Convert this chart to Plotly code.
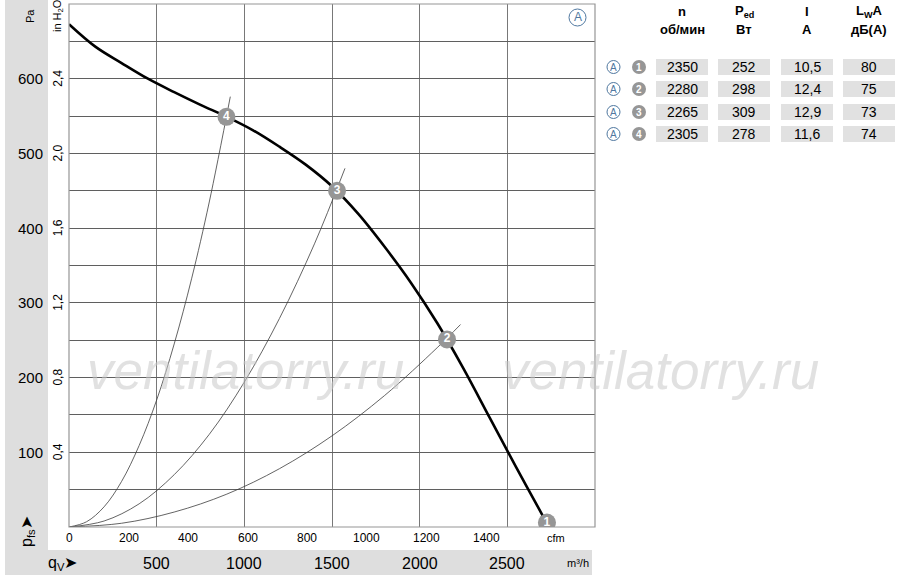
import plotly.graph_objects as go

# main fan curve (m3/h, Pa)
curve_q = [0, 150, 300, 450, 600, 750, 900, 1050, 1200, 1350, 1500, 1650, 1800, 1950, 2100, 2250, 2400, 2550,
           2700, 2726]
curve_p = [673, 643, 621, 600, 582, 565, 549, 531, 509, 485, 456, 419, 375, 327, 273, 212, 146, 80, 16, 5]

# system curves through the operating points
sys4_q = [0, 100, 200, 300, 400, 500, 600, 700, 800, 920]
sys4_p = [0, 7, 27, 61, 109, 170, 245, 333, 435, 576]
sys3_q = [0, 200, 400, 600, 800, 1000, 1200, 1400, 1574]
sys3_p = [0, 8, 31, 70, 124, 194, 279, 379, 480]
sys2_q = [0, 300, 600, 900, 1200, 1500, 1800, 2100, 2233]
sys2_p = [0, 5, 20, 44, 78, 122, 176, 240, 271]

# operating points
pt_ids = ["1", "2", "3", "4"]
pt_q = [2726, 2156, 1529, 898]
pt_p = [6, 251, 450, 549]

# axis ticks
pa_ticks = [100, 200, 300, 400, 500, 600]
inh2o_ticks = ["0,4", "0,8", "1,2", "1,6", "2,0", "2,4"]
cfm_ticks = [0, 200, 400, 600, 800, 1000, 1200, 1400]
m3h_ticks = [500, 1000, 1500, 2000, 2500]

# table
col_head1 = ["n", "P<sub>ed</sub>", "I", "L<sub>W</sub>A"]
col_head2 = ["об/мин", "Вт", "A", "дБ(A)"]
tab_n = ["2350", "2280", "2265", "2305"]
tab_ped = ["252", "298", "309", "278"]
tab_i = ["10,5", "12,4", "12,9", "11,6"]
tab_lwa = ["80", "75", "73", "74"]

FONT = "Liberation Sans, Arial, sans-serif"
L, R, T, B = 69, 595, 4, 527


def px(x):
    return (x - L) / (R - L)


def py(y):
    return (B - y) / (B - T)


def label(x, y, text, size, color="black", angle=0, xanchor="center", xref="paper", yref="paper", **kw):
    return dict(xref=xref, yref=yref, x=x, y=y, text=text, showarrow=False, textangle=angle,
                xanchor=xanchor, yanchor="middle", font=dict(family=FONT, size=size, color=color, **kw))


fig = go.Figure()

for q, p in [(sys4_q, sys4_p), (sys3_q, sys3_p), (sys2_q, sys2_p)]:
    fig.add_trace(go.Scatter(x=q, y=p, mode="lines", line=dict(color="rgb(60,60,60)", width=0.8, shape="spline"),
                             hoverinfo="skip"))

fig.add_trace(go.Scatter(x=curve_q, y=curve_p, mode="lines",
                         line=dict(color="black", width=2.6, shape="spline", smoothing=1.0)))

fig.add_trace(go.Scatter(x=pt_q, y=pt_p, mode="markers+text", text=pt_ids,
                         marker=dict(size=18, color="rgb(150,150,150)"),
                         textfont=dict(color="white", size=12, family=FONT, weight="bold"),
                         textposition="middle center"))

shapes = []
ann = []

# grey bands
shapes.append(dict(type="rect", xref="paper", yref="paper", x0=px(5), x1=px(48), y0=py(550), y1=py(0),
                   fillcolor="rgb(222,222,222)", line_width=0, layer="below"))
shapes.append(dict(type="rect", xref="paper", yref="paper", x0=px(5), x1=px(592), y0=py(575), y1=py(550),
                   fillcolor="rgb(222,222,222)", line_width=0, layer="below"))

# frame
shapes.append(dict(type="rect", xref="paper", yref="paper", x0=0, x1=1, y0=0, y1=1,
                   line=dict(color="rgb(150,150,150)", width=1.2)))

# watermark
for xc in [245, 660]:
    ann.append(label(px(xc), py(370), "ventilatorry.ru", 53, color="rgba(200,200,200,0.55)", style="italic"))

# left axis labels
for v, t in zip(pa_ticks, inh2o_ticks):
    ann.append(label(px(45), v, str(v), 15, xanchor="right", yref="y"))
    ann.append(label(px(58), v, t, 12, angle=-90, yref="y"))
ann.append(label(px(30), py(16), "Pa", 11, angle=-90))
ann.append(label(px(58), py(16), "in H<sub>2</sub>O", 11, angle=-90))
ann.append(label(px(27), py(532), "p<sub>fs</sub>➤", 16, angle=-90))

# bottom axis labels
for c in cfm_ticks:
    ann.append(label(c * 1.699, py(538), str(c), 12, xref="x"))
ann.append(label(px(556), py(538), "cfm", 11))
for m in m3h_ticks:
    ann.append(label(m, py(563), str(m), 16, xref="x"))
ann.append(label(px(578), py(563), "m³/h", 11))
ann.append(label(px(62), py(563), "q<sub>V</sub>➤", 16))

# circled A in the plot
A_COL = "rgb(80,120,160)"
shapes.append(dict(type="circle", xref="paper", yref="paper", x0=px(569), x1=px(586), y0=py(26), y1=py(9),
                   line=dict(color=A_COL, width=1)))
ann.append(label(px(577.5), py(17.5), "A", 12, color=A_COL))

# table
col_x = [682, 744, 807, 869]
col_w = 52
for cx, h1, h2 in zip(col_x, col_head1, col_head2):
    ann.append(label(px(cx), py(12), "<b>" + h1 + "</b>", 13))
    ann.append(label(px(cx), py(29), "<b>" + h2 + "</b>", 13))

row_y = [67, 89, 112, 134]
for i, ry in enumerate(row_y):
    shapes.append(dict(type="circle", xref="paper", yref="paper", x0=px(607), x1=px(620), y0=py(ry + 6.5),
                       y1=py(ry - 6.5), line=dict(color=A_COL, width=1)))
    ann.append(label(px(613.5), py(ry), "A", 10, color=A_COL))
    shapes.append(dict(type="circle", xref="paper", yref="paper", x0=px(632), x1=px(646), y0=py(ry + 7),
                       y1=py(ry - 7), fillcolor="rgb(150,150,150)", line_width=0))
    ann.append(label(px(639), py(ry), "<b>" + pt_ids[i] + "</b>", 10, color="white"))
    for cx, vals in zip(col_x, [tab_n, tab_ped, tab_i, tab_lwa]):
        shapes.append(dict(type="rect", xref="paper", yref="paper", x0=px(cx - col_w / 2), x1=px(cx + col_w / 2),
                           y0=py(ry + 8), y1=py(ry - 8), fillcolor="rgb(225,225,225)", line_width=0))
        ann.append(label(px(cx), py(ry), vals[i], 14))

fig.update_layout(
    width=900, height=582,
    margin=dict(l=L, r=900 - R, t=T, b=582 - B),
    paper_bgcolor="white", plot_bgcolor="white",
    showlegend=False,
    shapes=shapes, annotations=ann,
    xaxis=dict(range=[0, 3000], dtick=500, showgrid=True, gridcolor="rgb(120,120,120)", gridwidth=1,
               showticklabels=False, zeroline=False, fixedrange=True),
    yaxis=dict(range=[0, 700], dtick=50, showgrid=True, gridcolor="rgb(95,95,95)", gridwidth=1,
               showticklabels=False, zeroline=False, fixedrange=True),
)

fig.write_html("out.html", config={"displayModeBar": False},
               post_script="document.body.style.margin='0';")
